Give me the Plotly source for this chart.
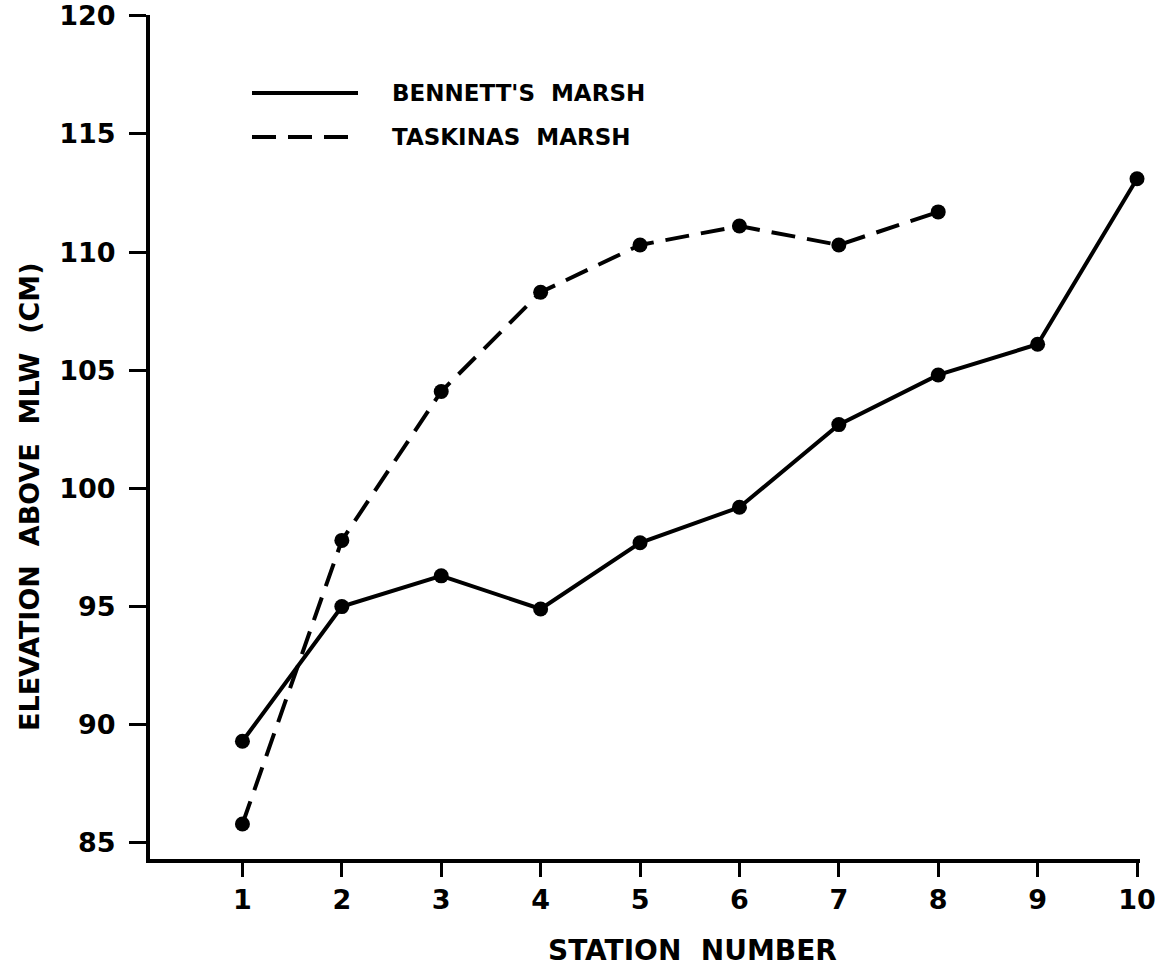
import plotly.graph_objects as go

# Station numbers along each marsh transect
stations_bennett = [1, 2, 3, 4, 5, 6, 7, 8, 9, 10]
stations_taskinas = [1, 2, 3, 4, 5, 6, 7, 8]

# Elevation above mean low water (cm)
elev_bennett = [89.3, 95.0, 96.3, 94.9, 97.7, 99.2, 102.7, 104.8, 106.1, 113.1]
elev_taskinas = [85.8, 97.8, 104.1, 108.3, 110.3, 111.1, 110.3, 111.7]

x_ticks = [1, 2, 3, 4, 5, 6, 7, 8, 9, 10]
y_ticks = [85, 90, 95, 100, 105, 110, 115, 120]

legend_names = ["BENNETT'S\u00a0\u00a0MARSH", "TASKINAS\u00a0\u00a0MARSH"]

W, H = 1164, 973
L, R, T, B = 150, 24, 15, 114
X_RANGE = [0.07, 10.03]
Y_RANGE = [84.32, 120.03]

FONT = "DejaVu Sans"
INK = "black"

fig = go.Figure()

fig.add_trace(go.Scatter(
    x=stations_bennett, y=elev_bennett, mode="lines+markers",
    line=dict(color=INK, width=4),
    marker=dict(color=INK, size=15),
    cliponaxis=False, showlegend=False,
))
fig.add_trace(go.Scatter(
    x=stations_taskinas, y=elev_taskinas, mode="lines+markers",
    line=dict(color=INK, width=4, dash="24px,12px"),
    marker=dict(color=INK, size=15),
    cliponaxis=False, showlegend=False,
))

# Hand-placed key in the upper left of the plot
def px_to_paper(px, py):
    return (px - L) / (W - L - R), (H - B - py) / (H - T - B)

for i, (name, dash) in enumerate(zip(legend_names, ["solid", "24px,12px"])):
    py = 93 + i * 44
    x0, y0 = px_to_paper(252, py)
    x1, _ = px_to_paper(358, py)
    fig.add_shape(type="line", xref="paper", yref="paper",
                  x0=x0, x1=x1, y0=y0, y1=y0,
                  line=dict(color=INK, width=4, dash=dash))
    tx, _ = px_to_paper(390, py)
    fig.add_annotation(xref="paper", yref="paper", x=tx, y=y0,
                       text=name, showarrow=False, xanchor="left", yanchor="middle",
                       font=dict(family=FONT, size=23, color=INK, weight="bold"))

# Axis titles
ax, ay = px_to_paper(692, 950)
fig.add_annotation(xref="paper", yref="paper", x=ax, y=ay,
                   text="STATION\u00a0\u00a0NUMBER", showarrow=False,
                   xanchor="center", yanchor="middle",
                   font=dict(family=FONT, size=28, color=INK, weight="bold"))
bx, by = px_to_paper(30, 497)
fig.add_annotation(xref="paper", yref="paper", x=bx, y=by,
                   text="ELEVATION\u00a0\u00a0ABOVE\u00a0\u00a0MLW\u00a0\u00a0(CM)", showarrow=False,
                   textangle=-90, xanchor="center", yanchor="middle",
                   font=dict(family=FONT, size=27, color=INK, weight="bold"))

fig.update_xaxes(
    range=X_RANGE, tickvals=x_ticks, ticktext=[str(v) for v in x_ticks],
    showgrid=False, zeroline=False, automargin=False,
    showline=True, linecolor=INK, linewidth=4,
    ticks="outside", ticklen=14, tickwidth=3, tickcolor=INK,
    tickfont=dict(family=FONT, size=27, color=INK, weight="bold"),
)
fig.update_yaxes(
    range=Y_RANGE, tickvals=y_ticks, ticktext=[str(v) for v in y_ticks],
    showgrid=False, zeroline=False, automargin=False,
    showline=True, linecolor=INK, linewidth=4,
    ticks="outside", ticklen=17, tickwidth=3, tickcolor=INK,
    ticklabelstandoff=8,
    tickfont=dict(family=FONT, size=27, color=INK, weight="bold"),
)

fig.update_layout(
    width=W, height=H, autosize=False,
    margin=dict(l=L, r=R, t=T, b=B),
    paper_bgcolor="white", plot_bgcolor="white",
)

fig.write_html("out.html")
